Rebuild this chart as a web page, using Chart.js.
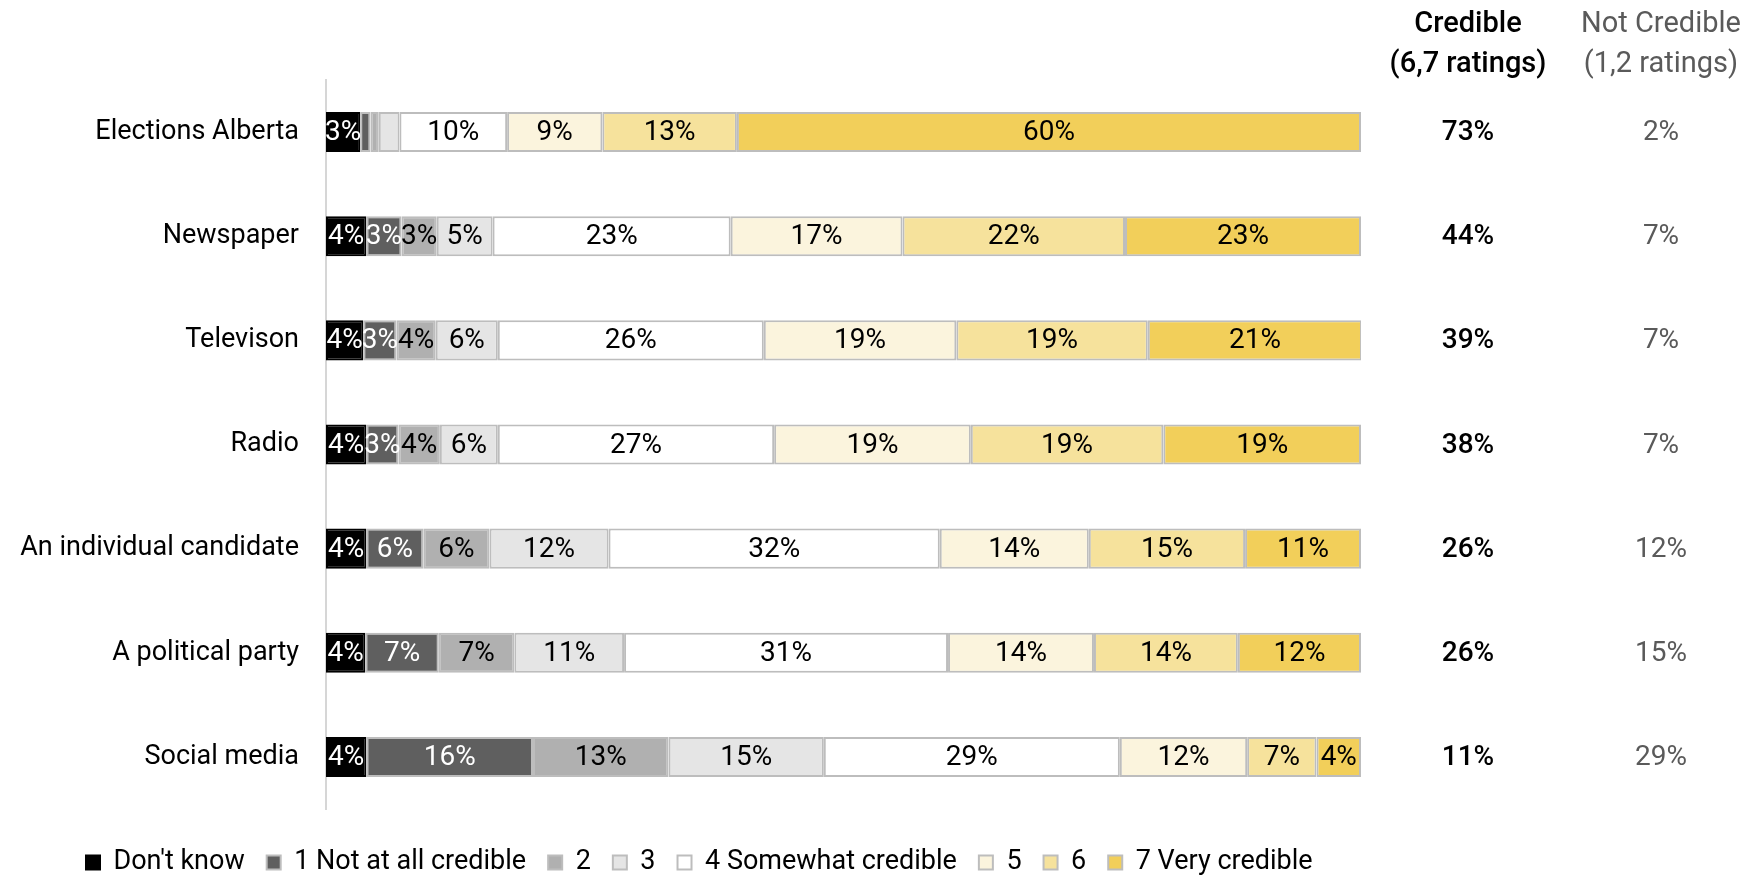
<!DOCTYPE html>
<html><head><meta charset="utf-8">
<script src="https://cdn.jsdelivr.net/npm/chart.js@4/dist/chart.umd.min.js"></script>
<style>html,body{margin:0;padding:0;background:#fff;}#wrap{width:1748px;height:875px;}</style>
</head><body><div id="wrap"><canvas id="c" width="1748" height="875"></canvas></div>
<script>
const categories = ["Elections Alberta","Newspaper","Televison","Radio","An individual candidate","A political party","Social media"];
const seriesNames = ["Don't know","1 Not at all credible","2","3","4 Somewhat credible","5","6","7 Very credible"];
const dontKnow = [3.3, 3.9, 3.6, 3.9, 3.9, 3.8, 3.9];
const rating1  = [1.0, 3.4, 3.2, 3.1, 5.5, 7.1, 16.1];
const rating2  = [0.8, 3.4, 3.8, 4.0, 6.4, 7.3, 13.1];
const rating3  = [2.0, 5.4, 6.0, 5.6, 11.5, 10.6, 15.0];
const rating4  = [10.4, 23.0, 25.7, 26.7, 32.0, 31.3, 28.6];
const rating5  = [9.2, 16.6, 18.6, 19.0, 14.4, 14.1, 12.3];
const rating6  = [13.0, 21.5, 18.5, 18.6, 15.1, 13.9, 6.7];
const rating7  = [60.3, 22.8, 20.7, 19.1, 11.2, 11.9, 4.3];
const credible = [73, 44, 39, 38, 26, 26, 11];
const notCredible = [2, 7, 7, 7, 12, 15, 29];
const colHeaders = [["Credible","(6,7 ratings)"],["Not Credible","(1,2 ratings)"]];

const seriesData = [dontKnow, rating1, rating2, rating3, rating4, rating5, rating6, rating7];
const fills = ["#000000","#5f5f5f","#b0b0b0","#e5e5e5","#ffffff","#fbf4dd","#f6e29c","#f2cf5a"];
const borders = ["#000000","#bdbdbd","#bdbdbd","#bdbdbd","#bdbdbd","#bdbdbd","#bdbdbd","#bdbdbd"];
const labelColors = ["#ffffff","#ffffff","#000","#000","#000","#000","#000","#000"];
const FONT = "Roboto";

const datasets = seriesNames.map((n,i)=>({
  label:n, data:seriesData[i], backgroundColor:fills[i], borderColor:borders[i],
  borderWidth:2, borderSkipped:false, categoryPercentage:1, barPercentage:0.385
}));

const valueLabels = {
  id:'valueLabels',
  afterDatasetsDraw(chart){
    const ctx = chart.ctx;
    ctx.save();
    ctx.font = "28px " + FONT;
    ctx.textAlign = "center"; ctx.textBaseline = "middle";
    chart.data.datasets.forEach((ds,di)=>{
      const meta = chart.getDatasetMeta(di);
      meta.data.forEach((el,j)=>{
        const v = ds.data[j];
        if (v < 2.5) return;
        ctx.fillStyle = labelColors[di];
        ctx.fillText(Math.round(v)+"%", (el.x+el.base)/2, el.y+1);
      });
    });
    ctx.restore();
  }
};

const sideColumns = {
  id:'sideColumns',
  afterDraw(chart){
    const ctx = chart.ctx, y = chart.scales.y;
    const xs = [1468, 1661];
    const cols = ["#000000","#5a5a5a"];
    const vals = [credible, notCredible];
    ctx.save();
    ctx.textAlign = "center"; ctx.textBaseline = "middle";
    for (let c=0;c<2;c++){
      ctx.fillStyle = cols[c];
      ctx.font = (c===0?"500 ":"400 ") + "29px " + FONT;
      ctx.fillText(colHeaders[c][0], xs[c], 25);
      ctx.fillText(colHeaders[c][1], xs[c], 65);
      ctx.font = (c===0?"500 ":"400 ") + "28px " + FONT;
      vals[c].forEach((v,i)=>{ ctx.fillText(v+"%", xs[c], y.getPixelForValue(i)+1); });
    }
    ctx.restore();
  }
};

const legendShift = {
  id:'legendShift',
  afterLayout(chart){
    const l = chart.legend;
    if (l) { l.left += 64; l.top += 18; l.bottom += 18; }
  }
};

new Chart(document.getElementById('c'), {
  type:'bar',
  data:{labels:categories, datasets},
  options:{
    indexAxis:'y', responsive:false, animation:false,
    layout:{padding:{left:0, top:80, right:0, bottom:7}},
    plugins:{
      tooltip:{enabled:false},
      legend:{position:'bottom', align:'start',
        labels:{font:{family:FONT, size:27}, color:"#000", boxWidth:14, boxHeight:14, padding:22}}
    },
    scales:{
      x:{stacked:true, min:0, max:100, display:false},
      y:{stacked:true, grid:{display:false}, border:{display:true, color:"#d6d6d6", width:2},
         ticks:{font:{family:FONT, size:27}, color:"#000", padding:19},
         afterFit(s){ s.width = 326; }},
      yR:{position:'right', type:'category', labels:categories, grid:{display:false}, border:{display:false},
         ticks:{display:false}, afterFit(s){ s.width = 387; }}
    }
  },
  plugins:[valueLabels, sideColumns, legendShift]
});
</script></body></html>
